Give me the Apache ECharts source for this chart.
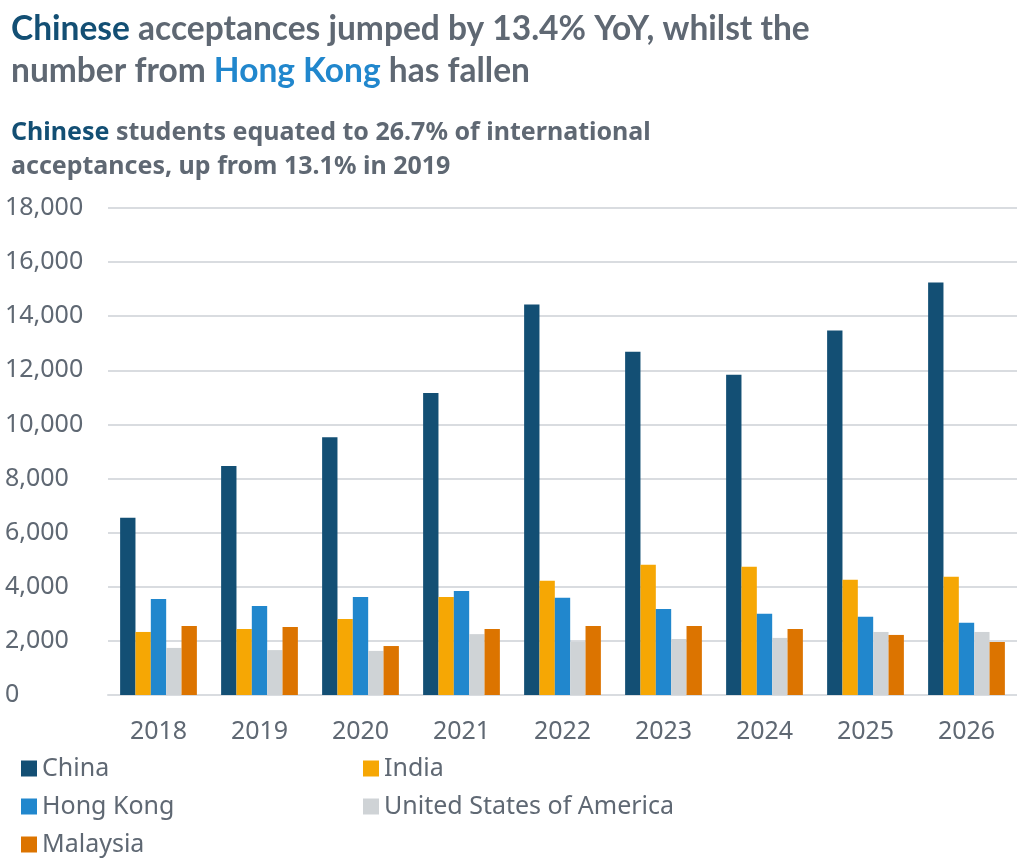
<!DOCTYPE html>
<html>
<head>
<meta charset="utf-8">
<style>
  html, body { margin: 0; padding: 0; background: #fff; }
  #main { width: 1017px; height: 863px; }
</style>
<script src="https://cdn.jsdelivr.net/npm/echarts@6/dist/echarts.min.js"></script>
</head>
<body>
<div id="main"></div>
<script>
// categories and values
var years = ['2018', '2019', '2020', '2021', '2022', '2023', '2024', '2025', '2026'];
var china    = [6550, 8460, 9530, 11160, 14430, 12690, 11840, 13470, 15250];
var india    = [2330, 2440, 2810, 3620, 4220, 4810, 4740, 4260, 4370];
var hongKong = [3550, 3290, 3620, 3840, 3590, 3180, 3000, 2890, 2670];
var usa      = [1740, 1660, 1630, 2250, 1970, 2070, 2110, 2330, 2330];
var malaysia = [2550, 2510, 1810, 2440, 2550, 2550, 2440, 2220, 1960];

var seriesNames = ['China', 'India', 'Hong Kong', 'United States of America', 'Malaysia'];
var seriesColors = ['#134f74', '#f6a704', '#2187cd', '#cfd3d6', '#dc7400'];
var seriesData = [china, india, hongKong, usa, malaysia];

var textGrey = '#5f6873';
var myChart = echarts.init(document.getElementById('main'));

var series = [];
for (var i = 0; i < seriesNames.length; i++) {
    series.push({
        name: seriesNames[i],
        type: 'bar',
        data: seriesData[i],
        barGap: '0%',
        barCategoryGap: '24%',
        itemStyle: { color: seriesColors[i] }
    });
}

var legendText = { color: textGrey, fontSize: 25, fontFamily: 'Noto Sans' };

var option = {
    backgroundColor: '#fff',
    animation: false,
    color: seriesColors,
    title: [{
        left: 11,
        top: 8,
        padding: 0,
        text: '{c|Chinese} acceptances jumped by 13.4% YoY, whilst the\nnumber from {h|Hong Kong} has fallen',
        textStyle: {
            color: textGrey,
            fontSize: 33.5,
            fontWeight: 'bold',
            fontFamily: 'Lato',
            lineHeight: 42,
            rich: {
                c: { color: '#134f74', fontSize: 33.5, fontWeight: 'bold', fontFamily: 'Lato', lineHeight: 42 },
                h: { color: '#2187cd', fontSize: 33.5, fontWeight: 'bold', fontFamily: 'Lato', lineHeight: 42 }
            }
        }
    }, {
        left: 11,
        top: 116,
        padding: 0,
        text: '{c|Chinese} students equated to 26.7% of international\nacceptances, up from 13.1% in 2019',
        textStyle: {
            color: textGrey,
            fontSize: 25,
            fontWeight: 'bold',
            fontFamily: 'Noto Sans',
            lineHeight: 34,
            rich: {
                c: { color: '#134f74', fontSize: 25, fontWeight: 'bold', fontFamily: 'Noto Sans', lineHeight: 34 }
            }
        }
    }],
    legend: [{
        left: 21,
        top: 756,
        padding: 0,
        orient: 'vertical',
        itemWidth: 16,
        itemHeight: 16,
        itemGap: 13,
        icon: 'rect',
        textStyle: legendText,
        data: ['China', 'Hong Kong', 'Malaysia']
    }, {
        left: 363,
        top: 756,
        padding: 0,
        orient: 'vertical',
        itemWidth: 16,
        itemHeight: 16,
        itemGap: 13,
        icon: 'rect',
        textStyle: legendText,
        data: ['India', 'United States of America']
    }],
    grid: {
        left: 108,
        right: 0,
        top: 208,
        bottom: 168
    },
    xAxis: {
        type: 'category',
        data: years,
        axisLine: { show: true, lineStyle: { color: '#d9dce0', width: 2 } },
        axisTick: { show: false },
        axisLabel: { color: textGrey, fontSize: 25, fontFamily: 'Noto Sans', margin: 24 }
    },
    yAxis: {
        type: 'value',
        min: 0,
        max: 18000,
        interval: 2000,
        axisLine: { show: false },
        axisTick: { show: false },
        splitLine: { show: true, lineStyle: { color: '#d9dce0', width: 2 } },
        axisLabel: {
            color: textGrey,
            fontSize: 25,
            fontFamily: 'Noto Sans',
            align: 'left',
            margin: 103,
            formatter: function (v) { return v.toLocaleString('en-US'); }
        }
    },
    series: series
};

myChart.setOption(option);
</script>
</body>
</html>
